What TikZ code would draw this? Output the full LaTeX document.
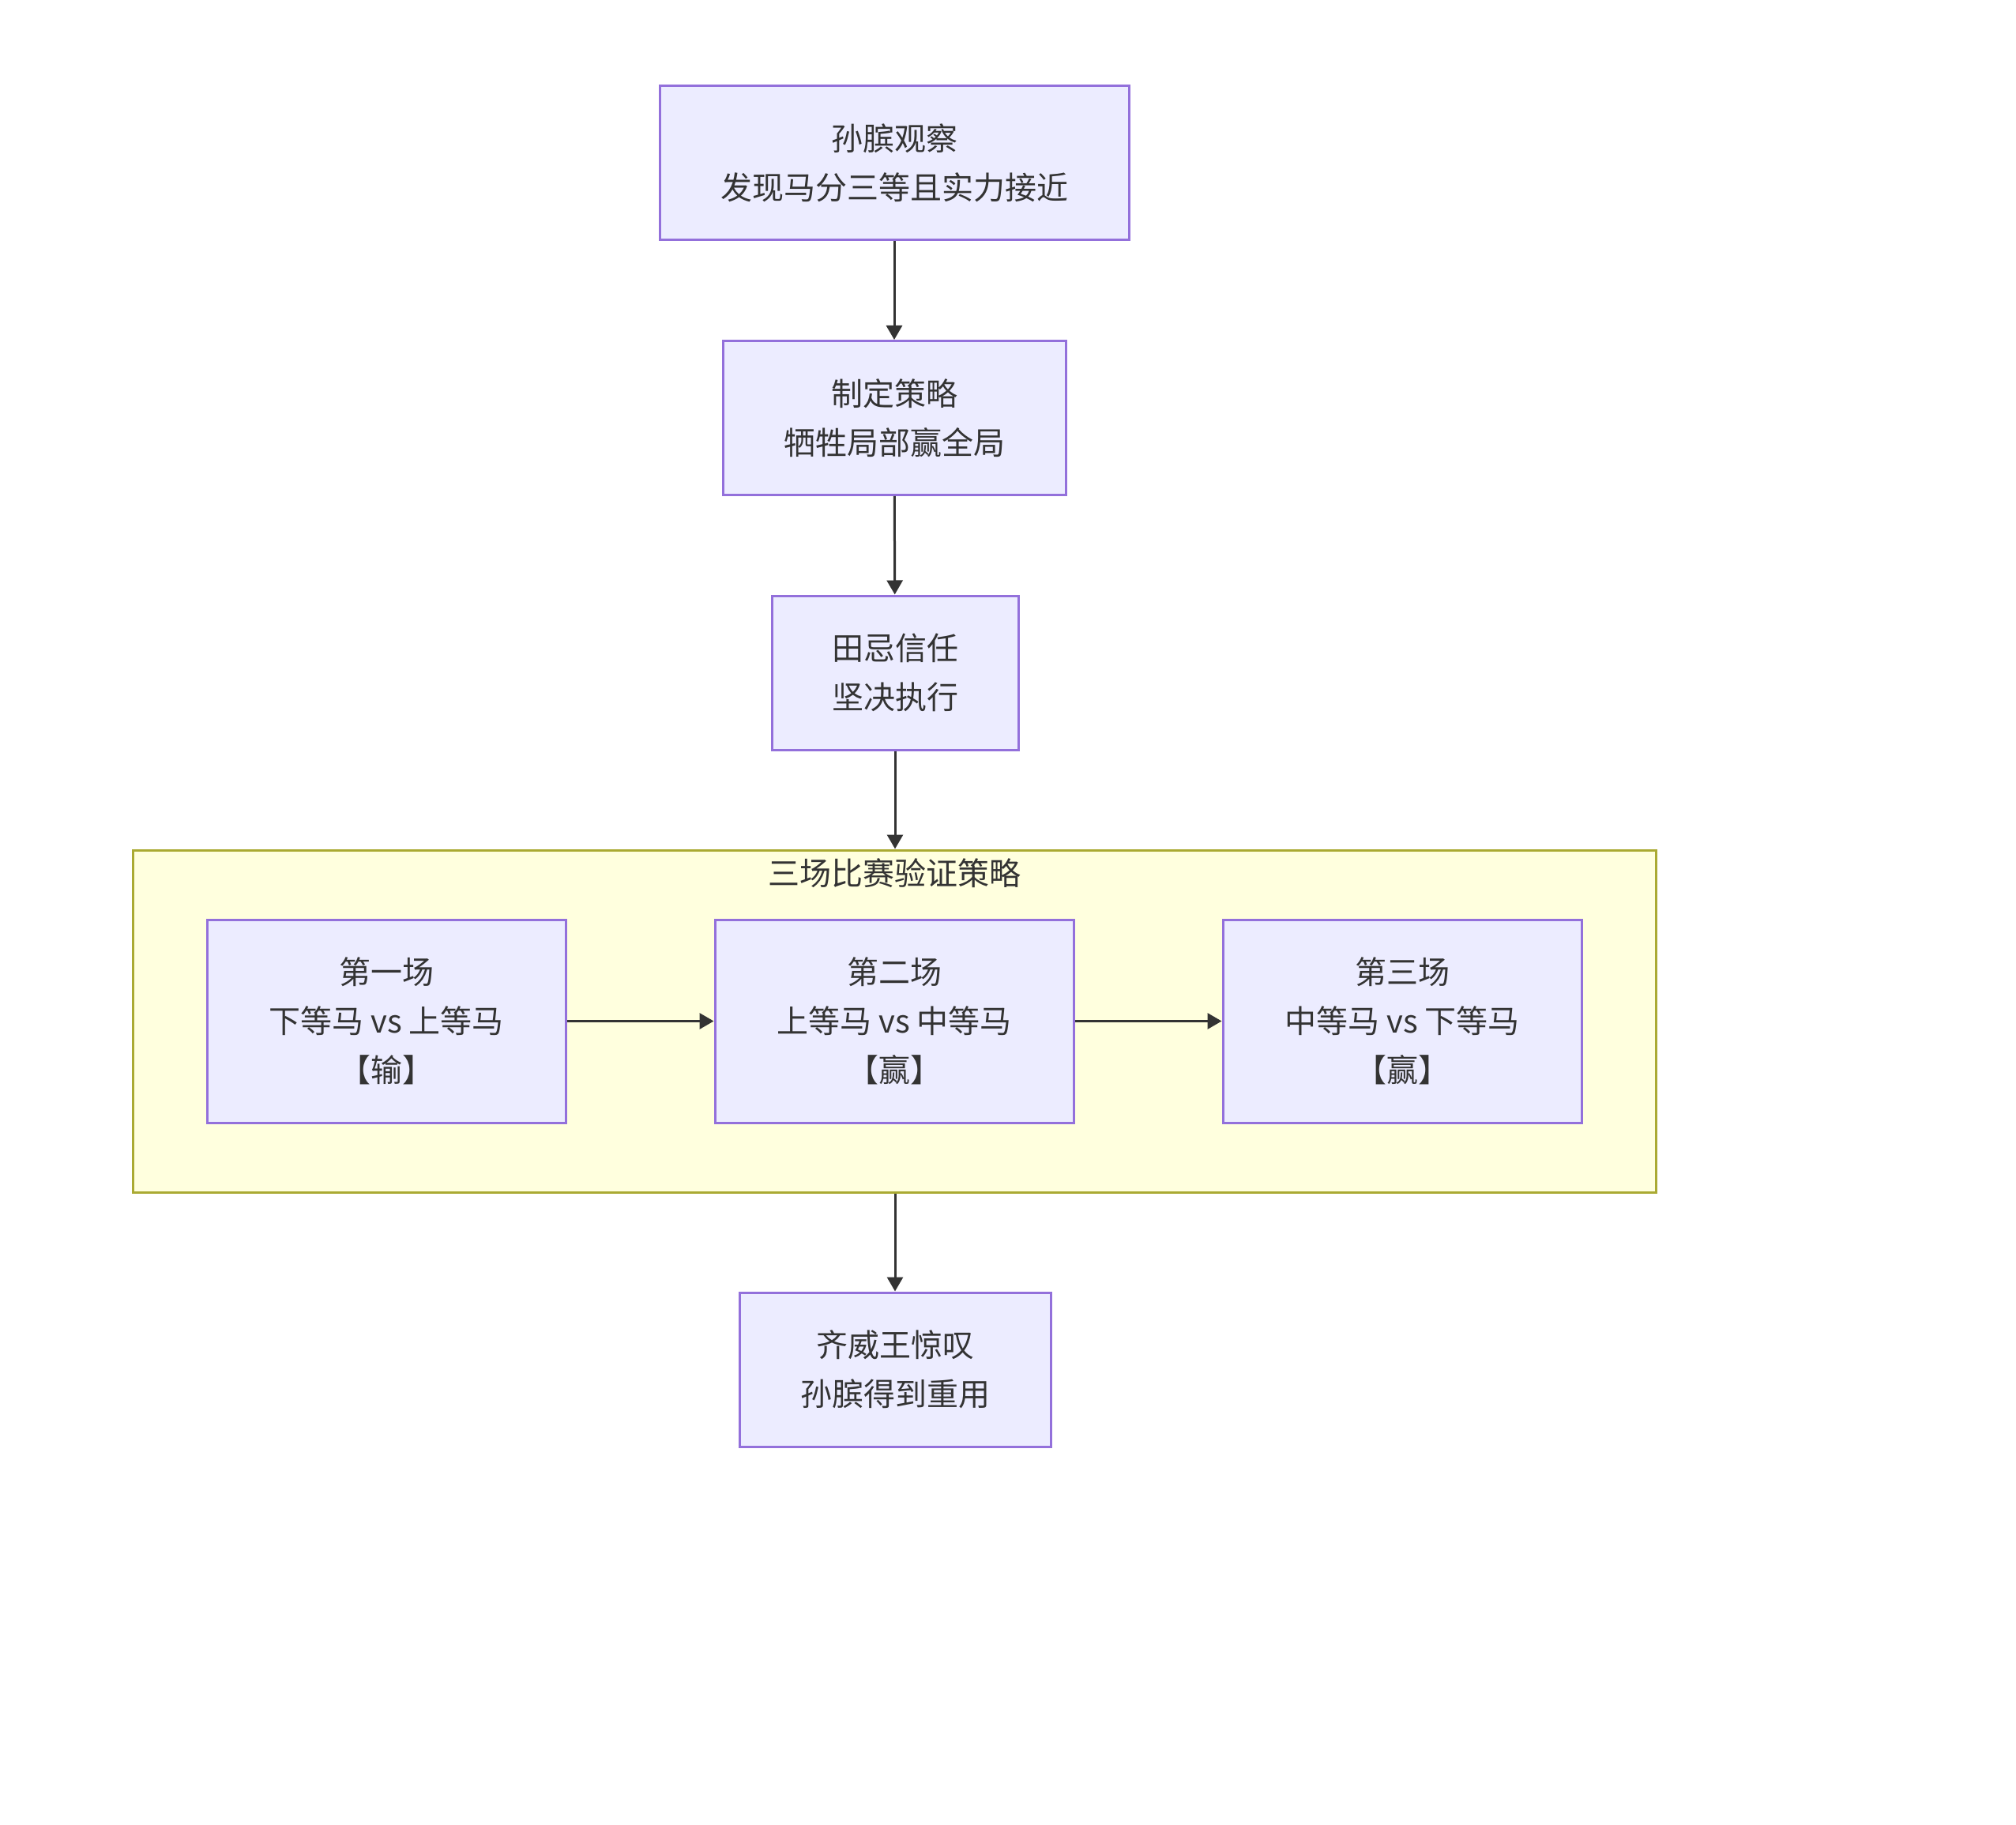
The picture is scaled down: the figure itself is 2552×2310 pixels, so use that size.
\documentclass[tikz,border=0pt]{standalone}
\usepackage{fontspec}
\setmainfont{Noto Sans CJK SC}
\usetikzlibrary{arrows.meta}
\definecolor{boxfill}{HTML}{ECECFF}
\definecolor{boxline}{HTML}{9370DB}
\definecolor{grpfill}{HTML}{FFFFDE}
\definecolor{grpline}{HTML}{AAAA33}
\definecolor{ink}{HTML}{333333}
\begin{document}
\begin{tikzpicture}[x=0.5pt,y=-0.5pt,
  every node/.style={font=\fontsize{20pt}{31pt}\selectfont, text=ink},
  stepbox/.style={draw=boxline, fill=boxfill, line width=1.5pt, align=center,
    inner sep=0pt, minimum height=97.5pt},
  grp/.style={draw=grpline, fill=grpfill, line width=1.5pt, inner sep=0pt,
    minimum width=964pt, minimum height=216.5pt},
  link/.style={draw=ink, line width=1.5pt, -{Triangle[width=10pt,length=9pt]}}]
  \useasboundingbox (0,0) rectangle (2552,2310);
  \fill[white] (0,0) rectangle (2552,2310);

  % main column
  \node[stepbox, minimum width=297pt] (observe) at (1132,206.5) {孙膑观察\\发现马分三等且实力接近};
  \node[stepbox, minimum width=217pt] (plan) at (1132,529) {制定策略\\牺牲局部赢全局};
  \node[stepbox, minimum width=156pt] (trust) at (1133,851.5) {田忌信任\\坚决执行};

  % group of the three races
  \node[grp] (races) at (1132,1292.5) {};
  \node (racestitle) at (1132,1105) {三场比赛验证策略};
  \node[stepbox, minimum width=227pt, minimum height=128.5pt] (r1) at (489,1292.5) {第一场\\下等马 vs 上等马\\【输】};
  \node[stepbox, minimum width=227pt, minimum height=128.5pt] (r2) at (1132,1292.5) {第二场\\上等马 vs 中等马\\【赢】};
  \node[stepbox, minimum width=227pt, minimum height=128.5pt] (r3) at (1775,1292.5) {第三场\\中等马 vs 下等马\\【赢】};

  \node[stepbox, minimum width=197pt] (result) at (1133,1733.5) {齐威王惊叹\\孙膑得到重用};

  % connectors
  \draw[link] (observe) -- (plan);
  \draw[link] (plan) -- (trust);
  \draw[link] (trust.south) -- (trust.south |- races.north);
  \draw[link] (r1) -- (r2);
  \draw[link] (r2) -- (r3);
  \draw[link] (races.south -| result.north) -- (result.north);
\end{tikzpicture}
\end{document}
